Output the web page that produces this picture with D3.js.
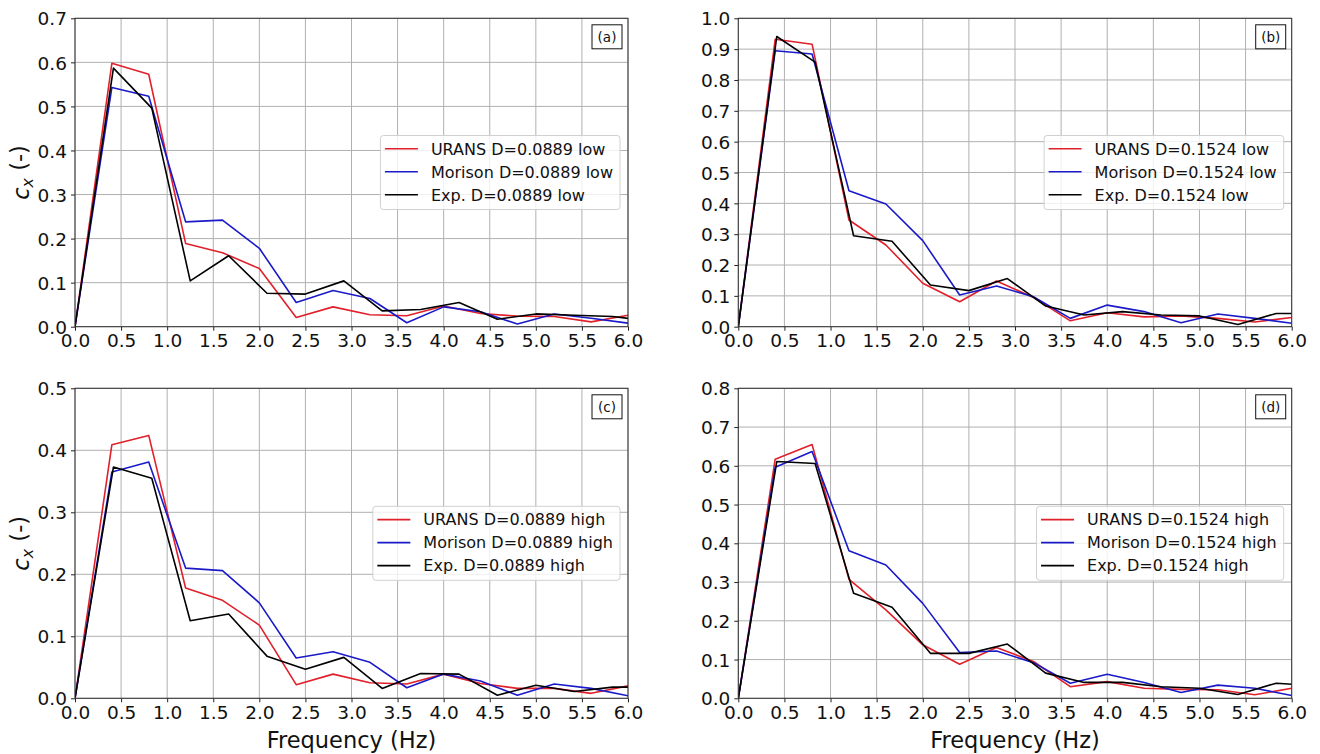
<!DOCTYPE html>
<html>
<head>
<meta charset="utf-8">
<script src="https://cdn.jsdelivr.net/npm/d3@7/dist/d3.min.js"></script>
<style>
  html, body { margin: 0; padding: 0; background: #fff; }
  svg { display: block; font-family: "DejaVu Sans", sans-serif; }
</style>
</head>
<body>
<svg id="chart" width="1320" height="754"></svg>
<script>
// Frequencies of the simulated (URANS / Morison) spectra and of the measured one
const simFreq = [0, 0.4, 0.8, 1.2, 1.6, 2.0, 2.4, 2.8, 3.2, 3.6, 4.0, 4.4, 4.8, 5.2, 5.6, 6.0];
const expFreq = [0, 0.417, 0.833, 1.25, 1.667, 2.083, 2.5, 2.917, 3.333, 3.75, 4.167, 4.583, 5.0, 5.417, 5.833, 6.25];

// (a) D = 0.0889, low
const uransA   = [0, 0.598, 0.573, 0.189, 0.168, 0.132, 0.021, 0.045, 0.027, 0.025, 0.047, 0.030, 0.024, 0.023, 0.011, 0.026];
const morisonA = [0, 0.543, 0.523, 0.238, 0.242, 0.178, 0.055, 0.082, 0.064, 0.009, 0.045, 0.034, 0.006, 0.029, 0.019, 0.008];
const expA     = [0, 0.587, 0.496, 0.104, 0.161, 0.076, 0.074, 0.104, 0.036, 0.039, 0.055, 0.017, 0.029, 0.026, 0.023, 0.013];

// (b) D = 0.1524, low
const uransB   = [0, 0.932, 0.916, 0.346, 0.265, 0.141, 0.081, 0.148, 0.095, 0.019, 0.045, 0.032, 0.035, 0.027, 0.015, 0.030];
const morisonB = [0, 0.895, 0.884, 0.441, 0.398, 0.279, 0.103, 0.132, 0.097, 0.027, 0.070, 0.049, 0.013, 0.041, 0.027, 0.011];
const expB     = [0, 0.941, 0.858, 0.295, 0.277, 0.135, 0.117, 0.156, 0.067, 0.038, 0.049, 0.038, 0.035, 0.007, 0.043, 0.043];

// (c) D = 0.0889, high
const uransC   = [0, 0.409, 0.424, 0.178, 0.158, 0.118, 0.022, 0.039, 0.025, 0.023, 0.039, 0.024, 0.016, 0.016, 0.008, 0.020];
const morisonC = [0, 0.365, 0.381, 0.210, 0.206, 0.154, 0.065, 0.075, 0.058, 0.017, 0.039, 0.028, 0.005, 0.023, 0.016, 0.004];
const expC     = [0, 0.373, 0.355, 0.125, 0.136, 0.068, 0.047, 0.066, 0.016, 0.040, 0.039, 0.005, 0.021, 0.011, 0.018, 0.018];

// (d) D = 0.1524, high
const uransD   = [0, 0.617, 0.655, 0.307, 0.228, 0.138, 0.088, 0.131, 0.095, 0.030, 0.043, 0.026, 0.023, 0.022, 0.009, 0.026];
const morisonD = [0, 0.596, 0.637, 0.381, 0.344, 0.245, 0.118, 0.122, 0.092, 0.039, 0.062, 0.041, 0.015, 0.034, 0.026, 0.007];
const expD     = [0, 0.611, 0.606, 0.271, 0.235, 0.116, 0.116, 0.140, 0.065, 0.041, 0.041, 0.030, 0.026, 0.010, 0.039, 0.032];

const xTicks = [0, 0.5, 1.0, 1.5, 2.0, 2.5, 3.0, 3.5, 4.0, 4.5, 5.0, 5.5, 6.0];
const yMaxA = 0.7, yMaxB = 1.0, yMaxC = 0.5, yMaxD = 0.8;
const tagsList = ["(a)", "(b)", "(c)", "(d)"];
const seriesNames = ["URANS", "Morison", "Exp."];
const caseNames = ["D=0.0889 low", "D=0.1524 low", "D=0.0889 high", "D=0.1524 high"];

const COLORS = ["#e0202a", "#1a1ac8", "#000000"];

const panels = [
  { tag: tagsList[0], caseName: caseNames[0], ymax: yMaxA, series: [uransA, morisonA, expA],
    box: { x0: 75, x1: 628, y0: 18.3, y1: 326.7 }, yLabel: true, xLabel: false },
  { tag: tagsList[1], caseName: caseNames[1], ymax: yMaxB, series: [uransB, morisonB, expB],
    box: { x0: 738.3, x1: 1291.7, y0: 18.3, y1: 326.7 }, yLabel: false, xLabel: false },
  { tag: tagsList[2], caseName: caseNames[2], ymax: yMaxC, series: [uransC, morisonC, expC],
    box: { x0: 75, x1: 628, y0: 388.3, y1: 698.3 }, yLabel: true, xLabel: true },
  { tag: tagsList[3], caseName: caseNames[3], ymax: yMaxD, series: [uransD, morisonD, expD],
    box: { x0: 738.3, x1: 1291.7, y0: 388.3, y1: 698.3 }, yLabel: false, xLabel: true }
];

const svg = d3.select("#chart");

panels.forEach((p, i) => {
  const b = p.box;
  const x = d3.scaleLinear().domain([0, 6]).range([b.x0, b.x1]);
  const y = d3.scaleLinear().domain([0, p.ymax]).range([b.y1, b.y0]);
  const yTicks = d3.range(0, p.ymax + 1e-9, 0.1).map(v => +v.toFixed(1));

  const g = svg.append("g");

  // clip region of the axes
  const clipId = "clip" + i;
  g.append("clipPath").attr("id", clipId)
    .append("rect").attr("x", b.x0).attr("y", b.y0)
    .attr("width", b.x1 - b.x0).attr("height", b.y1 - b.y0);

  // grid
  const grid = g.append("g").attr("stroke", "#b0b0b0").attr("stroke-width", 1);
  xTicks.forEach(t => grid.append("line")
    .attr("x1", x(t)).attr("x2", x(t)).attr("y1", b.y0).attr("y2", b.y1));
  yTicks.forEach(t => grid.append("line")
    .attr("x1", b.x0).attr("x2", b.x1).attr("y1", y(t)).attr("y2", y(t)));

  // axes
  const xAxis = d3.axisBottom(x).tickValues(xTicks).tickFormat(d3.format(".1f"))
    .tickSizeInner(4).tickSizeOuter(0).tickPadding(3);
  const yAxis = d3.axisLeft(y).tickValues(yTicks).tickFormat(d3.format(".1f"))
    .tickSizeInner(4).tickSizeOuter(0).tickPadding(4);

  const gx = g.append("g").attr("transform", `translate(0,${b.y1})`).call(xAxis);
  const gy = g.append("g").attr("transform", `translate(${b.x0},0)`).call(yAxis);
  [gx, gy].forEach(ax => {
    ax.select(".domain").remove();
    ax.selectAll(".tick line").attr("stroke", "#222").attr("stroke-width", 1);
    ax.selectAll(".tick text").attr("fill", "#111")
      .style("font-family", "DejaVu Sans").style("font-size", "18.5px");
  });
  gx.selectAll(".tick text").attr("dy", "0.74em");
  gy.selectAll(".tick text").attr("dy", "0.36em");

  // data lines
  const line = d3.line().x(d => x(d[0])).y(d => y(d[1]));
  const lines = g.append("g").attr("clip-path", `url(#${clipId})`);
  p.series.forEach((vals, k) => {
    const freqs = k === 2 ? expFreq : simFreq;
    lines.append("path")
      .datum(freqs.map((f, j) => [f, vals[j]]))
      .attr("d", line)
      .attr("fill", "none")
      .attr("stroke", COLORS[k])
      .attr("stroke-width", 1.6)
      .attr("stroke-linejoin", "round");
  });

  // frame
  g.append("rect").attr("x", b.x0).attr("y", b.y0)
    .attr("width", b.x1 - b.x0).attr("height", b.y1 - b.y0)
    .attr("fill", "none").attr("stroke", "#333").attr("stroke-width", 1);

  // panel tag
  const tw = 30, th = 24;
  const tx = b.x1 - 6 - tw, ty = b.y0 + 6.5;
  g.append("rect").attr("x", tx).attr("y", ty).attr("width", tw).attr("height", th)
    .attr("fill", "#fff").attr("stroke", "#111").attr("stroke-width", 1);
  g.append("text").attr("x", tx + tw / 2).attr("y", ty + th / 2).attr("dy", "0.36em")
    .attr("text-anchor", "middle").style("font-size", "13.5px").attr("fill", "#111")
    .text(p.tag);

  // legend
  const fs = 16, pitch = 23, lh = 74;
  const leg = g.append("g");
  const frame = leg.append("rect");
  const labels = seriesNames.map(n => n + " " + p.caseName);
  const texts = labels.map((t, k) => leg.append("text")
    .style("font-size", fs + "px").attr("fill", "#111").attr("dy", "0.36em").text(t));
  const tw2 = d3.max(texts, t => t.node().getComputedTextLength());
  const lw = 4.5 + 33 + 13 + tw2 + 7;
  const lx = b.x1 - 8 - lw;
  const ly = (b.y0 + b.y1) / 2 - lh / 2;
  frame.attr("x", lx).attr("y", ly).attr("width", lw).attr("height", lh)
    .attr("rx", 3).attr("fill", "#fff").attr("fill-opacity", 0.8)
    .attr("stroke", "#d0d0d0").attr("stroke-width", 1);
  texts.forEach((t, k) => {
    const cy = ly + 13.3 + k * pitch;
    leg.append("line").attr("x1", lx + 4.5).attr("x2", lx + 37.5)
      .attr("y1", cy).attr("y2", cy)
      .attr("stroke", COLORS[k]).attr("stroke-width", 1.6);
    t.attr("x", lx + 50.5).attr("y", cy);
  });

  // axis titles
  if (p.yLabel) {
    const yl = g.append("text")
      .attr("transform", `translate(29,${(b.y0 + b.y1) / 2}) rotate(-90)`)
      .attr("text-anchor", "middle").style("font-size", "22.5px").attr("fill", "#111");
    yl.append("tspan").style("font-style", "italic").text("c");
    yl.append("tspan").attr("dy", "0.25em").style("font-size", "16px").style("font-style", "italic").text("x");
    yl.append("tspan").attr("dy", "-0.25em").text(" (-)");
  }
  if (p.xLabel) {
    g.append("text").attr("x", (b.x0 + b.x1) / 2).attr("y", 747.5)
      .attr("text-anchor", "middle").style("font-size", "22.5px").attr("fill", "#111")
      .text("Frequency (Hz)");
  }
});
</script>
</body>
</html>
